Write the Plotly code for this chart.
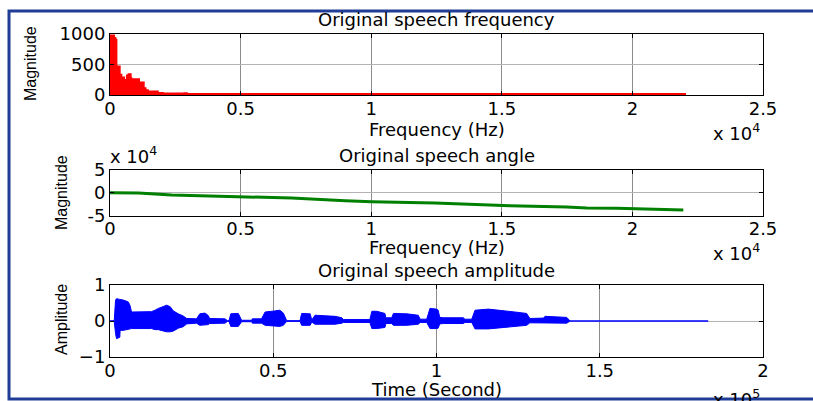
import plotly.graph_objects as go

W, H = 813, 401

# ---------------- data ----------------
# Spectrum magnitude envelope (Hz, magnitude)
spec_freq = [0, 25, 165, 215, 255, 380, 445, 550, 640, 700, 800, 830, 1120, 1300,
             1370, 1460, 1840, 2030, 2840, 2950, 22050]
spec_mag = [960, 973, 930, 902, 468, 332, 288, 250, 321, 342, 277, 261, 207, 114,
            82, 60, 38, 27, 34, 22, 22]

# Unwrapped phase angle (Hz, value)
ang_freq = [0, 1085, 2360, 4150, 4910, 6960, 9000, 10020, 12440, 13400, 14290,
            15310, 17480, 18250, 19400, 20550, 21950]
ang_val = [0, -700, -5000, -8000, -8500, -11600, -17500, -19700, -22600, -24800,
           -27000, -28400, -31300, -33500, -34300, -35700, -37900]

# Speech waveform envelope (sample index, upper, lower)
wav_n = [0, 1300, 1700, 2000, 3000, 3100, 4100, 5600, 6100, 6600, 12700, 13800,
         14800, 16300, 17300, 18400, 19400, 20900, 22400, 23500, 26500, 27500,
         29100, 30100, 30500, 35200, 36000, 36500, 37000, 39300, 40300, 43400,
         43600, 46400, 47500, 50500, 52000, 53100, 54100, 58200, 58700, 61300,
         61800, 62800, 68900, 71000, 71500, 79600, 80200, 81700, 84200, 84500,
         86300, 86800, 90900, 94400, 95000, 97000, 98000, 100000, 100500, 101000,
         102100, 108200, 108700, 110800, 111800, 115900, 120000, 124000, 127600,
         128600, 132700, 133300, 139900, 140900, 183200]
wav_up = [0, 0.01, 0.58, 0.62, 0.60, 0.60, 0.58, 0.53, 0.44, 0.25, 0.26, 0.30,
          0.35, 0.40, 0.44, 0.40, 0.28, 0.20, 0.14, 0.07, 0.06, 0.20,
          0.22, 0.15, 0.07, 0.06, 0.01, 0.02, 0.20, 0.21, 0.02, 0.02,
          0.06, 0.06, 0.25, 0.28, 0.30, 0.22, 0.01, 0.01, 0.21, 0.20,
          0.03, 0.16, 0.13, 0.09, 0.04, 0.04, 0.27, 0.27, 0.21, 0.09,
          0.09, 0.21, 0.20, 0.16, 0.05, 0.05, 0.35, 0.33, 0.30, 0.10,
          0.09, 0.09, 0.05, 0.05, 0.30, 0.33, 0.28, 0.25, 0.21,
          0.07, 0.08, 0.13, 0.10, 0.0, 0.0]
wav_lo = [0, -0.01, -0.35, -0.49, -0.45, -0.26, -0.26, -0.22, -0.21, -0.21, -0.21, -0.24,
          -0.24, -0.28, -0.30, -0.30, -0.28, -0.20, -0.16, -0.08, -0.06, -0.12,
          -0.12, -0.10, -0.07, -0.06, -0.01, -0.02, -0.15, -0.15, -0.02, -0.02,
          -0.06, -0.06, -0.12, -0.15, -0.15, -0.12, -0.01, -0.01, -0.12, -0.12,
          -0.03, -0.09, -0.09, -0.06, -0.04, -0.04, -0.21, -0.21, -0.18, -0.07,
          -0.07, -0.12, -0.12, -0.09, -0.04, -0.04, -0.21, -0.21, -0.20, -0.08,
          -0.07, -0.07, -0.04, -0.04, -0.22, -0.22, -0.18, -0.15, -0.12,
          -0.05, -0.05, -0.07, -0.06, 0.0, 0.0]

freq_ticks = [0, 5000, 10000, 15000, 20000, 25000]
freq_ticktext = ["0", "0.5", "1", "1.5", "2", "2.5"]
time_ticks = [0, 50000, 100000, 150000, 200000]
time_ticktext = ["0", "0.5", "1", "1.5", "2"]

# ---------------- helpers ----------------
def X(px):
    return px / W

def Y(py):
    return 1 - py / H

FONT = "DejaVu Sans"
FS = 18
YFONT = "Liberation Sans Narrow, Liberation Sans"
YFS = 16

fig = go.Figure()

fig.add_trace(go.Scatter(x=spec_freq, y=spec_mag, mode="lines", line=dict(color="#ff0000", width=1.5, shape="hv"),
                         fill="tozeroy", fillcolor="#ff0000", xaxis="x", yaxis="y", showlegend=False))
fig.add_trace(go.Scatter(x=ang_freq, y=ang_val, mode="lines", line=dict(color="#008000", width=3),
                         xaxis="x2", yaxis="y2", showlegend=False))
fig.add_trace(go.Scatter(x=wav_n, y=wav_up, mode="lines", line=dict(color="#0000ff", width=1),
                         xaxis="x3", yaxis="y3", showlegend=False))
fig.add_trace(go.Scatter(x=wav_n, y=wav_lo, mode="lines", line=dict(color="#0000ff", width=1),
                         fill="tonexty", fillcolor="#0000ff", xaxis="x3", yaxis="y3", showlegend=False))

common = dict(showline=True, linecolor="black", linewidth=1, mirror="ticks", ticks="inside",
              ticklen=4, tickcolor="black", zeroline=False, showgrid=True,
              tickfont=dict(family=FONT, size=FS, color="black"), automargin=False)

xdom = [X(110), X(763)]
fig.update_layout(
    width=W, height=H, margin=dict(l=0, r=0, t=0, b=0),
    paper_bgcolor="white", plot_bgcolor="white",
    xaxis=dict(domain=xdom, range=[0, 25000], tickvals=freq_ticks, ticktext=freq_ticktext,
               anchor="y", gridcolor="#8c8c8c", ticklabelstandoff=-3, **common),
    yaxis=dict(domain=[Y(95), Y(33.5)], range=[0, 1000], tickvals=[0, 500, 1000],
               anchor="x", gridcolor="#b4b4b4", **common),
    xaxis2=dict(domain=xdom, range=[0, 25000], tickvals=freq_ticks, ticktext=freq_ticktext,
                anchor="y2", gridcolor="#8c8c8c", ticklabelstandoff=-3, **common),
    yaxis2=dict(domain=[Y(215.5), Y(170)], range=[-50000, 50000], tickvals=[-50000, 0, 50000],
                ticktext=["-5", "0", "5"], anchor="x2", gridcolor="#b4b4b4", **common),
    xaxis3=dict(domain=xdom, range=[0, 200000], tickvals=time_ticks, ticktext=time_ticktext,
                anchor="y3", gridcolor="#8c8c8c", ticklabelstandoff=-3, **common),
    yaxis3=dict(domain=[Y(357), Y(285)], range=[-1, 1], tickvals=[-1, 0, 1],
                anchor="x3", gridcolor="#b4b4b4", **common),
)

def txt(s, px, py, xanchor="center", angle=0, family=FONT, size=FS):
    fig.add_annotation(text=s, x=X(px), y=Y(py), xref="paper", yref="paper", showarrow=False,
                       xanchor=xanchor, yanchor="middle", textangle=angle,
                       font=dict(family=family, size=size, color="black"))

cx = (110 + 763) / 2
txt("Original speech frequency", cx, 19)
txt("Frequency (Hz)", cx, 129)
txt("x 10<sup>4</sup>", 711, 132, xanchor="left")
txt("Magnitude", 30, 64, angle=-90, family=YFONT, size=YFS)

txt("Original speech angle", cx, 155)
txt("Frequency (Hz)", cx, 247)
txt("x 10<sup>4</sup>", 711, 252, xanchor="left")
txt("x 10<sup>4</sup>", 108, 155, xanchor="left")
txt("Magnitude", 61, 193, angle=-90, family=YFONT, size=YFS)

txt("Original speech amplitude", cx, 270)
txt("Time (Second)", cx, 389)
txt("x 10<sup>5</sup>", 711, 398, xanchor="left")
txt("Amplitude", 61, 320, angle=-90, family=YFONT, size=YFS)

# blue frame
fig.add_shape(type="rect", xref="paper", yref="paper", x0=X(9), x1=X(830), y0=Y(399), y1=Y(11),
              line=dict(color="#1f3c96", width=3), fillcolor="rgba(0,0,0,0)", layer="above")

fig.write_html("out.html", config={"displayModeBar": False},
               post_script="document.body.style.margin='0';")
